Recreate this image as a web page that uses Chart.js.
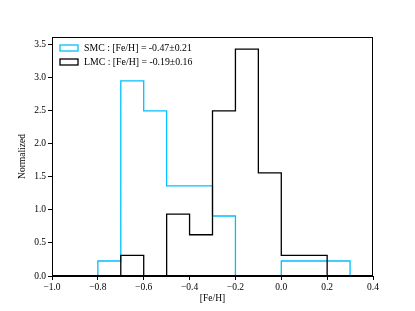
<!DOCTYPE html>
<html>
<head>
<meta charset="utf-8">
<script src="https://cdn.jsdelivr.net/npm/chart.js@4/dist/chart.umd.min.js"></script>
<style>
  html, body { margin: 0; padding: 0; background: #fff; }
  #wrap { width: 415px; height: 311px; }
</style>
</head>
<body>
<div id="wrap"><canvas id="myChart" width="415" height="311"></canvas></div>
<script>
// bin edges and normalized heights
const smcEdges = [-0.8, -0.7, -0.6, -0.5, -0.4, -0.3, -0.2, -0.1, 0.0, 0.1, 0.2, 0.3];
const smcHeights = [0.227, 2.955, 2.5, 1.364, 1.364, 0.909, 0, 0, 0.227, 0.227, 0.227];
const lmcEdges = [-0.7, -0.6, -0.5, -0.4, -0.3, -0.2, -0.1, 0.0, 0.1, 0.2];
const lmcHeights = [0.3125, 0, 0.9375, 0.625, 2.5, 3.4375, 1.5625, 0.3125, 0.3125];
const labels = ["SMC : [Fe/H] = -0.47\u00b10.21", "LMC : [Fe/H] = -0.19\u00b10.16"];
const colors = ["rgb(0, 191, 255)", "rgb(0, 0, 0)"];
const xTicks = [-1.0, -0.8, -0.6, -0.4, -0.2, 0.0, 0.2, 0.4];
const yTicks = [0.0, 0.5, 1.0, 1.5, 2.0, 2.5, 3.0, 3.5];

const FONT = "'Liberation Serif', 'DejaVu Serif', serif";

// turn edges + heights into a step outline like matplotlib histtype='step'
function stepPoints(edges, heights) {
    const pts = [{ x: edges[0], y: 0 }];
    heights.forEach((h, i) => {
        pts.push({ x: edges[i], y: h });
        pts.push({ x: edges[i + 1], y: h });
    });
    pts.push({ x: edges[edges.length - 1], y: 0 });
    return pts;
}

function minus(v) {
    return v.toFixed(1).replace("-", "\u2212");
}

// frame + legend inside the axes
const framePlugin = {
    id: "frame",
    afterDraw(chart) {
        const { ctx, chartArea: a } = chart;
        ctx.save();
        ctx.strokeStyle = "#000";
        ctx.lineWidth = 1;
        ctx.strokeRect(a.left + 0.5, a.top + 0.5, a.right - a.left - 1, a.bottom - a.top - 1);
        ctx.font = "9.8px " + FONT;
        ctx.textBaseline = "middle";
        labels.forEach((lab, i) => {
            const y = 48 + i * 14;
            ctx.strokeStyle = colors[i];
            ctx.lineWidth = 1.3;
            ctx.strokeRect(60, y - 3, 18, 6);
            ctx.fillStyle = "#000";
            ctx.fillText(lab, 84, y + 0.5);
        });
        ctx.restore();
    },
};

window.onload = function () {
    const ctx = document.getElementById("myChart").getContext("2d");
    const datasets = [
        { label: labels[0], data: stepPoints(smcEdges, smcHeights), borderColor: colors[0], order: 2 },
        { label: labels[1], data: stepPoints(lmcEdges, lmcHeights), borderColor: colors[1], order: 1 },
    ].map((d) => ({ ...d, borderWidth: 1.3, pointRadius: 0, fill: false, tension: 0 }));

    new Chart(ctx, {
        type: "line",
        data: { datasets },
        options: {
            responsive: false,
            animation: false,
            events: [],
            layout: { padding: { top: 37, right: 42, left: 17, bottom: 7 } },
            plugins: { legend: { display: false }, tooltip: { enabled: false } },
            scales: {
                x: {
                    type: "linear",
                    min: -1.0,
                    max: 0.4,
                    afterBuildTicks: (s) => { s.ticks = xTicks.map((v) => ({ value: v })); },
                    afterFit: (s) => { s.height = 28; },
                    grid: { drawOnChartArea: false, tickLength: 4, tickColor: "#000" },
                    border: { color: "#000" },
                    ticks: { color: "#000", font: { family: FONT, size: 9.5 }, padding: 2, maxRotation: 0, callback: (v) => minus(v) },
                    title: { display: true, text: "[Fe/H]", color: "#000", font: { family: FONT, size: 9.5 }, padding: 0 },
                },
                y: {
                    min: 0,
                    max: 3.62,
                    afterBuildTicks: (s) => { s.ticks = yTicks.map((v) => ({ value: v })); },
                    afterFit: (s) => { s.width = 35; },
                    grid: { drawOnChartArea: false, tickLength: 4, tickColor: "#000" },
                    border: { color: "#000" },
                    ticks: { color: "#000", font: { family: FONT, size: 9.5 }, padding: 2, callback: (v) => minus(v) },
                    title: { display: true, text: "Normalized", color: "#000", font: { family: FONT, size: 9.5 }, padding: 0 },
                },
            },
        },
        plugins: [framePlugin],
    });
};
</script>
</body>
</html>
